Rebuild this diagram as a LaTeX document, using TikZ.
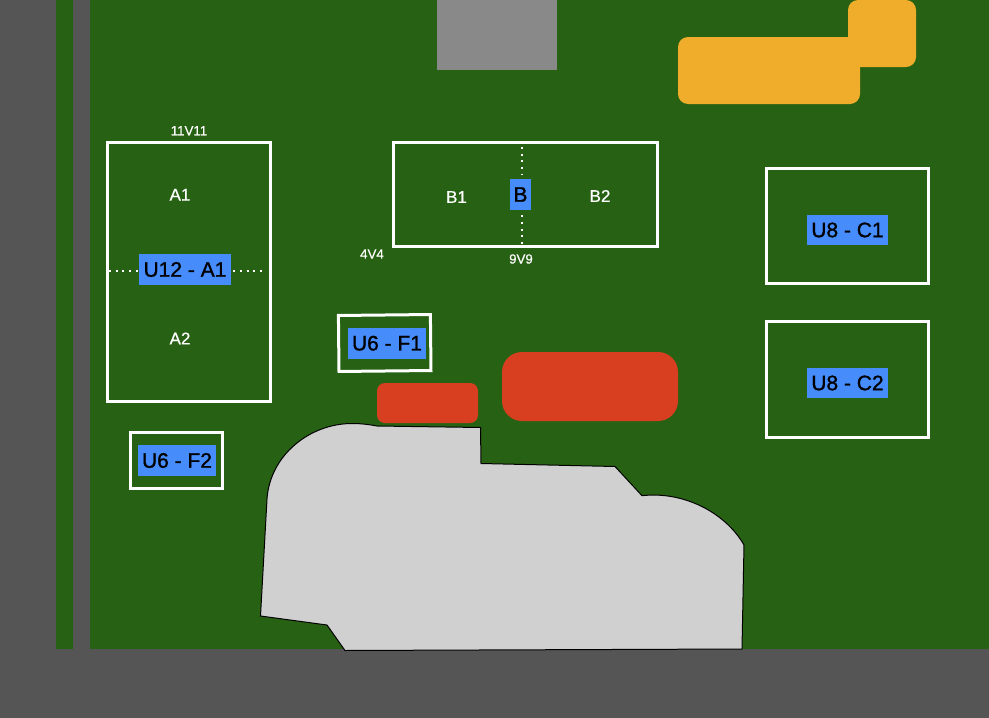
\documentclass[tikz,border=0pt]{standalone}
\usepackage{fontspec}
\setmainfont{Liberation Sans}
\newfontfamily\heavyfont[FakeBold=1.1]{Liberation Sans}
\newfontfamily\softfont[FakeBold=0.6]{Liberation Sans}
\usepackage{tikz}
\usetikzlibrary{positioning}
\definecolor{boardgreen}{HTML}{276113}
\definecolor{edgegray}{HTML}{555555}
\definecolor{blockgray}{HTML}{898989}
\definecolor{padorange}{HTML}{F0AD2B}
\definecolor{padred}{HTML}{D83F20}
\definecolor{labelblue}{HTML}{468CFA}
\definecolor{cutgray}{HTML}{D0D0D0}

\begin{document}
\begin{tikzpicture}
  [
    x=1pt, y=-1pt,
    Frame/.style={rectangle, draw=white, line width=3pt, inner sep=0pt},
    Blue/.style={rectangle, fill=labelblue, text=black, inner sep=0pt, minimum height=31pt, font=\heavyfont\fontsize{21}{22}\selectfont},
    Big/.style={text=white, inner sep=0pt, font=\softfont\fontsize{17}{18}\selectfont},
    Small/.style={text=white, inner sep=0pt, font=\softfont\fontsize{13.3}{14}\selectfont},
    Dots/.style={white, line width=2pt, dash pattern=on 2pt off 4.67pt}
  ]
  \useasboundingbox (0, 0) rectangle (989, 718);
  % Board
  \fill[edgegray] (0, 0) rectangle (989, 718);
  \fill[boardgreen] (56, 0) rectangle (73, 649);
  \fill[boardgreen] (90, 0) rectangle (989, 649);
  \fill[blockgray] (437, 0) rectangle (557, 70);

  % Pads
  \fill[padorange, rounded corners=10pt] (678, 37) rectangle (860, 104);
  \fill[padorange, rounded corners=10pt] (848, 0) rectangle (916, 67);
  \fill[padred, rounded corners=8pt] (377, 383) rectangle (478, 423);
  \fill[padred, rounded corners=20pt] (502, 352) rectangle (678, 421);

  % Cut out
  \draw[fill=cutgray, draw=black, line width=1pt]
    (377, 426) -- (480.5, 427.5) -- (481, 463.5) -- (615, 466.5) -- (642, 495.7)
    .. controls (683, 491) and (725, 512) .. (744, 545)
    -- (742, 649) -- (345, 650.5) -- (327, 625) -- (260.5, 616) -- (267, 499)
    .. controls (270, 455) and (310, 423.5) .. (352, 423.5)
    .. controls (361, 423.5) and (369, 424.5) .. (377, 426) -- cycle;

  % Frames
  \node[Frame, minimum width=163pt, minimum height=259pt] (frameA) at(189, 272) {};
  \node[Frame, minimum width=264pt, minimum height=103.5pt] (frameB) at(525.5, 194.7) {};
  \node[Frame, minimum width=162pt, minimum height=115.5pt] (frameC1) at(847.5, 226.2) {};
  \node[Frame, minimum width=162pt, minimum height=116pt] (frameC2) at(847.5, 379.5) {};
  \node[Frame, minimum width=92pt, minimum height=56pt, rotate=0.6] (frameF1) at(384.7, 343) {};
  \node[Frame, minimum width=92pt, minimum height=55.7pt] (frameF2) at(176.7, 460.3) {};

  % Labels
  \node[Blue, minimum width=92pt] (labelA) at(185, 269.5) {U12 - A1};
  \node[Blue, minimum width=21pt] (labelB) at(520.5, 194.5) {B};
  \node[Blue, minimum width=81pt, minimum height=30pt] (labelC1) at(847.5, 230) {U8 - C1};
  \node[Blue, minimum width=81pt, minimum height=30pt] (labelC2) at(847.5, 383) {U8 - C2};
  \node[Blue, minimum width=78pt] (labelF1) at(387, 343.2) {U6 - F1};
  \node[Blue, minimum width=78pt] (labelF2) at(177, 460.5) {U6 - F2};

  \node[Big] (textA1) at(180, 194.7) {A1};
  \node[Big] (textA2) at(180, 338.5) {A2};
  \node[Big] (textB1) at(456.5, 197) {B1};
  \node[Big] (textB2) at(600, 196) {B2};
  \node[Small] (text11) at(189, 130.7) {11V11};
  \node[Small] (text4) at(372, 254) {4V4};
  \node[Small] (text9) at(521, 259) {9V9};

  % Dotted
  \coordinate (dotAl) at(109, 270.7);
  \coordinate (dotAr) at(266, 270.7);
  \coordinate (dotBt) at(522, 147);
  \coordinate (dotBb) at(522, 244);
  \draw[Dots] (dotAl) -- (dotAl -| labelA.west);
  \draw[Dots] (dotAl -| labelA.east) ++(2, 0) -- (dotAr);
  \draw[Dots, shorten >=5pt] (dotBt) -- (dotBt |- labelB.north);
  \draw[Dots, shorten >=4pt] (dotBb) -- (dotBb |- labelB.south);
\end{tikzpicture}
\end{document}
